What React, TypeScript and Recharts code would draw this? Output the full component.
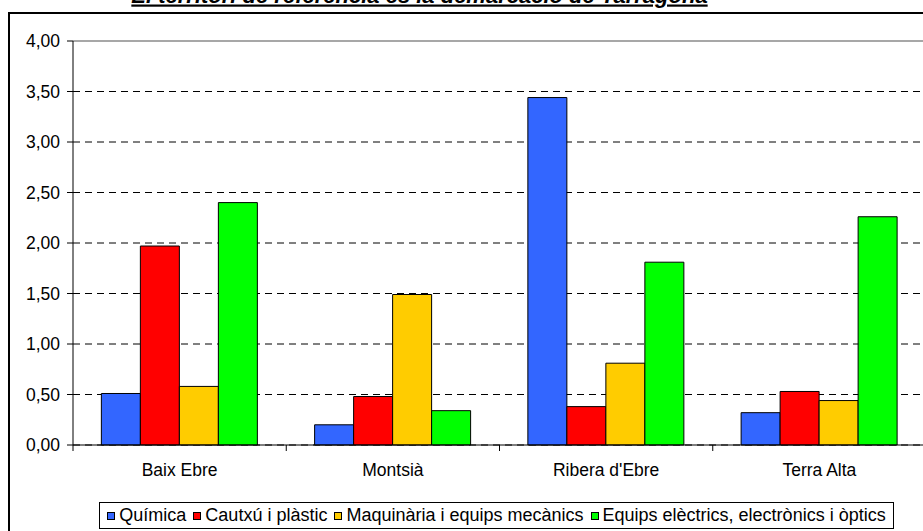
import React from 'react';
import { BarChart, Bar, XAxis, YAxis, CartesianGrid } from 'recharts';

const title = 'El territori de referència és la demarcació de Tarragona';
const categories = ['Baix Ebre', 'Montsià', "Ribera d'Ebre", 'Terra Alta'];
const quimica = [0.51, 0.2, 3.44, 0.32];
const cautxu = [1.97, 0.48, 0.38, 0.53];
const maquinaria = [0.58, 1.49, 0.81, 0.44];
const equips = [2.4, 0.34, 1.81, 2.26];
const seriesNames = [
  'Química',
  'Cautxú i plàstic',
  'Maquinària i equips mecànics',
  'Equips elèctrics, electrònics i òptics',
];
const seriesColors = ['#3366FF', '#FF0000', '#FFCC00', '#00FF00'];
const yTicks = [0, 0.5, 1, 1.5, 2, 2.5, 3, 3.5, 4];

const seriesValues = [quimica, cautxu, maquinaria, equips];
const data = categories.map((c, i) => {
  const row: any = { category: c };
  seriesValues.forEach((s, k) => {
    row['s' + k] = s[i];
  });
  return row;
});

const FONT = '"Liberation Sans", Arial, sans-serif';
const FS = 17.5;

const CategoryTick = (props: any) => {
  const { x, y, payload } = props;
  const off = payload && typeof payload.offset === 'number' ? payload.offset : 0;
  return (
    <g>
      <line x1={x - off} x2={x - off} y1={y} y2={y + 6} stroke="#000" strokeWidth={1} />
      <text x={x} y={y + 31} textAnchor="middle" fontSize={FS} fontFamily={FONT} fill="#000">
        {payload.value}
      </text>
    </g>
  );
};

const GridLine = (p: any) => {
  const isTop = typeof p.y === 'number' && Math.abs(p.y1 - p.y) < 1;
  if (isTop) {
    return (
      <line key={p.key} x1={p.x1} x2={p.x2} y1={p.y1} y2={p.y2} stroke="#8a8a8a" strokeWidth={1.5} />
    );
  }
  return (
    <line
      key={p.key}
      x1={p.x1}
      x2={p.x2}
      y1={p.y1}
      y2={p.y2}
      stroke="#000"
      strokeWidth={1}
      strokeDasharray="7 5"
    />
  );
};

export default function App() {
  return (
    <div
      style={{
        position: 'absolute',
        left: 0,
        top: 0,
        width: 923,
        height: 531,
        overflow: 'hidden',
        background: '#fff',
      }}
    >
      <div
        style={{
          position: 'absolute',
          left: 8,
          top: 12,
          width: 1000,
          height: 600,
          border: '2px solid #000',
        }}
      />
      <div style={{ position: 'absolute', left: 0, top: 0 }}>
        <BarChart
          width={923}
          height={531}
          data={data}
          margin={{ top: 41, right: -3, bottom: 46, left: 0 }}
          barCategoryGap="13.3%"
          barGap={0}
        >
          <CartesianGrid vertical={false} horizontal={GridLine} />
          <XAxis
            dataKey="category"
            height={40}
            interval={0}
            tickSize={0}
            tickMargin={0}
            tickLine={false}
            axisLine={{ stroke: '#000' }}
            tick={<CategoryTick />}
          />
          <YAxis
            width={73}
            domain={[0, 4]}
            ticks={yTicks}
            interval={0}
            tickSize={6}
            tickMargin={7}
            axisLine={{ stroke: '#000' }}
            tickLine={{ stroke: '#000' }}
            tick={{ fill: '#000', fontSize: FS, fontFamily: FONT }}
            tickFormatter={(v: number) => v.toFixed(2).replace('.', ',')}
          />
          {seriesNames.map((name, k) => (
            <Bar
              key={name}
              dataKey={'s' + k}
              name={name}
              fill={seriesColors[k]}
              stroke="#000"
              strokeWidth={1}
              isAnimationActive={false}
            />
          ))}
        </BarChart>
      </div>
      <div
        style={{
          position: 'absolute',
          left: 99,
          top: 502,
          width: 793,
          height: 25,
          border: '1px solid #000',
          background: '#fff',
          display: 'flex',
          justifyContent: 'center',
          alignItems: 'center',
          fontFamily: FONT,
          fontSize: 18,
          color: '#000',
          whiteSpace: 'nowrap',
        }}
      >
        {seriesNames.map((name, k) => (
          <div
            key={name}
            style={{ display: 'flex', alignItems: 'center', marginLeft: k === 0 ? 0 : 7 }}
          >
            <span
              style={{
                display: 'inline-block',
                width: 6,
                height: 6,
                border: '1px solid #000',
                background: seriesColors[k],
                marginRight: 4,
              }}
            />
            <span>{name}</span>
          </div>
        ))}
      </div>
      <svg width={923} height={20} style={{ position: 'absolute', left: 0, top: 0 }}>
        <text
          x={419.5}
          y={2.5}
          textAnchor="middle"
          fontSize={22}
          fontFamily={FONT}
          fontWeight="bold"
          fontStyle="italic"
          textDecoration="underline"
          fill="#000"
        >
          {title}
        </text>
      </svg>
    </div>
  );
}
